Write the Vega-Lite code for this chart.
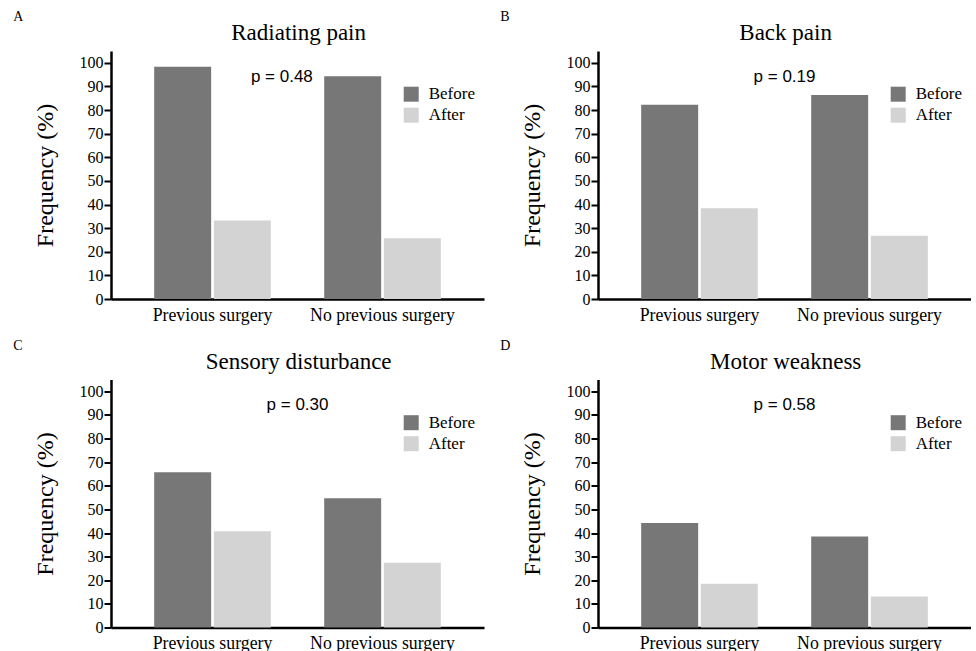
{
  "$schema": "https://vega.github.io/schema/vega-lite/v6.json",
  "padding": {"left": 13, "top": 10, "right": 0, "bottom": 0},
  "background": "white",
  "columns": 2,
  "spacing": {"row": 14.5, "column": 16},
  "resolve": {"legend": {"color": "independent"}, "scale": {"color": "independent"}},
  "datasets": {
    "bars": [
      {"panel": "A", "group": "Previous surgery", "period": "Before", "freq": 98.3},
      {"panel": "A", "group": "Previous surgery", "period": "After", "freq": 33.2},
      {"panel": "A", "group": "No previous surgery", "period": "Before", "freq": 94.3},
      {"panel": "A", "group": "No previous surgery", "period": "After", "freq": 25.7},
      {"panel": "B", "group": "Previous surgery", "period": "Before", "freq": 82.2},
      {"panel": "B", "group": "Previous surgery", "period": "After", "freq": 38.4},
      {"panel": "B", "group": "No previous surgery", "period": "Before", "freq": 86.4},
      {"panel": "B", "group": "No previous surgery", "period": "After", "freq": 26.8},
      {"panel": "C", "group": "Previous surgery", "period": "Before", "freq": 65.7},
      {"panel": "C", "group": "Previous surgery", "period": "After", "freq": 40.8},
      {"panel": "C", "group": "No previous surgery", "period": "Before", "freq": 54.7},
      {"panel": "C", "group": "No previous surgery", "period": "After", "freq": 27.4},
      {"panel": "D", "group": "Previous surgery", "period": "Before", "freq": 44.2},
      {"panel": "D", "group": "Previous surgery", "period": "After", "freq": 18.5},
      {"panel": "D", "group": "No previous surgery", "period": "Before", "freq": 38.5},
      {"panel": "D", "group": "No previous surgery", "period": "After", "freq": 13.1}
    ],
    "pvals": [
      {"panel": "A", "px": 0.458, "py": 92, "label": "p = 0.48"},
      {"panel": "B", "px": 0.5, "py": 92, "label": "p = 0.19"},
      {"panel": "C", "px": 0.5, "py": 92, "label": "p = 0.30"},
      {"panel": "D", "px": 0.5, "py": 92, "label": "p = 0.58"}
    ],
    "letters": [
      {"panel": "A", "px": -0.262, "py": 117.5, "label": "A"},
      {"panel": "B", "px": -0.262, "py": 117.5, "label": "B"},
      {"panel": "C", "px": -0.262, "py": 117.5, "label": "C"},
      {"panel": "D", "px": -0.262, "py": 117.5, "label": "D"}
    ],
    "titles": [
      {"panel": "A", "px": 0.503, "py": 109.6, "label": "Radiating pain"},
      {"panel": "B", "px": 0.503, "py": 109.6, "label": "Back pain"},
      {"panel": "C", "px": 0.503, "py": 109.6, "label": "Sensory disturbance"},
      {"panel": "D", "px": 0.503, "py": 109.6, "label": "Motor weakness"}
    ]
  },
  "config": {
    "view": {"stroke": null},
    "axis": {
      "domainColor": "black", "domainWidth": 2.5, "tickColor": "black", "tickWidth": 2,
      "labelFont": "Liberation Serif", "labelColor": "black",
      "titleFont": "Liberation Serif", "titleColor": "black", "titleFontWeight": "normal",
      "grid": false
    },
    "axisY": {"tickSize": 7, "labelPadding": 1, "labelFontSize": 16, "titleFontSize": 24, "titlePadding": 22},
    "axisX": {"ticks": false, "labelPadding": 7, "labelFontSize": 17.8, "labelAngle": 0},
    "legend": {
      "orient": "none", "legendX": 291.7, "legendY": 34.7, "padding": 0,
      "symbolType": "square", "symbolSize": 225, "symbolStrokeWidth": 0, "symbolOpacity": 1,
      "labelFont": "Liberation Serif", "labelFontSize": 17, "labelColor": "black",
      "labelOffset": 9, "rowPadding": 3
    }
  },
  "concat": [
    {
      "width": 373, "height": 248,
      "resolve": {"scale": {"x": "independent"}},
      "layer": [
        {
          "data": {"name": "bars"},
          "transform": [{"filter": "datum.panel === 'A'"}],
          "mark": {"type": "bar"},
          "encoding": {
            "x": {"field": "group", "type": "nominal", "sort": ["Previous surgery", "No previous surgery"], "scale": {"paddingInner": 0.314, "paddingOuter": 0.254}, "title": null},
            "xOffset": {"field": "period", "type": "nominal", "sort": ["Before", "After"], "scale": {"paddingInner": 0.045}},
            "y": {"field": "freq", "type": "quantitative", "scale": {"domain": [0, 105], "nice": false}, "axis": {"values": [0, 10, 20, 30, 40, 50, 60, 70, 80, 90, 100]}, "title": "Frequency (%)"},
            "color": {"field": "period", "type": "nominal", "sort": ["Before", "After"], "scale": {"domain": ["Before", "After"], "range": ["#777777", "#d3d3d3"]}, "legend": {"title": null}}
          }
        },
        {
          "data": {"name": "pvals"},
          "transform": [{"filter": "datum.panel === 'A'"}],
          "mark": {"type": "text", "font": "Liberation Sans", "fontSize": 17, "baseline": "alphabetic", "align": "center", "color": "black"},
          "encoding": {
            "x": {"field": "px", "type": "quantitative", "scale": {"domain": [0, 1]}, "axis": null},
            "y": {"field": "py", "type": "quantitative", "scale": {"domain": [0, 105], "nice": false}, "axis": {"values": [0, 10, 20, 30, 40, 50, 60, 70, 80, 90, 100]}, "title": "Frequency (%)"},
            "text": {"field": "label"}
          }
        },
        {
          "data": {"name": "letters"},
          "transform": [{"filter": "datum.panel === 'A'"}],
          "mark": {"type": "text", "font": "Liberation Serif", "fontSize": 14, "baseline": "alphabetic", "align": "left", "color": "black"},
          "encoding": {
            "x": {"field": "px", "type": "quantitative", "scale": {"domain": [0, 1]}, "axis": null},
            "y": {"field": "py", "type": "quantitative", "scale": {"domain": [0, 105], "nice": false}, "axis": {"values": [0, 10, 20, 30, 40, 50, 60, 70, 80, 90, 100]}, "title": "Frequency (%)"},
            "text": {"field": "label"}
          }
        },
        {
          "data": {"name": "titles"},
          "transform": [{"filter": "datum.panel === 'A'"}],
          "mark": {"type": "text", "font": "Liberation Serif", "fontSize": 23, "baseline": "alphabetic", "align": "center", "color": "black"},
          "encoding": {
            "x": {"field": "px", "type": "quantitative", "scale": {"domain": [0, 1]}, "axis": null},
            "y": {"field": "py", "type": "quantitative", "scale": {"domain": [0, 105], "nice": false}, "axis": {"values": [0, 10, 20, 30, 40, 50, 60, 70, 80, 90, 100]}, "title": "Frequency (%)"},
            "text": {"field": "label"}
          }
        }
      ]
    },
    {
      "width": 373, "height": 248,
      "resolve": {"scale": {"x": "independent"}},
      "layer": [
        {
          "data": {"name": "bars"},
          "transform": [{"filter": "datum.panel === 'B'"}],
          "mark": {"type": "bar"},
          "encoding": {
            "x": {"field": "group", "type": "nominal", "sort": ["Previous surgery", "No previous surgery"], "scale": {"paddingInner": 0.314, "paddingOuter": 0.254}, "title": null},
            "xOffset": {"field": "period", "type": "nominal", "sort": ["Before", "After"], "scale": {"paddingInner": 0.045}},
            "y": {"field": "freq", "type": "quantitative", "scale": {"domain": [0, 105], "nice": false}, "axis": {"values": [0, 10, 20, 30, 40, 50, 60, 70, 80, 90, 100]}, "title": "Frequency (%)"},
            "color": {"field": "period", "type": "nominal", "sort": ["Before", "After"], "scale": {"domain": ["Before", "After"], "range": ["#777777", "#d3d3d3"]}, "legend": {"title": null}}
          }
        },
        {
          "data": {"name": "pvals"},
          "transform": [{"filter": "datum.panel === 'B'"}],
          "mark": {"type": "text", "font": "Liberation Sans", "fontSize": 17, "baseline": "alphabetic", "align": "center", "color": "black"},
          "encoding": {
            "x": {"field": "px", "type": "quantitative", "scale": {"domain": [0, 1]}, "axis": null},
            "y": {"field": "py", "type": "quantitative", "scale": {"domain": [0, 105], "nice": false}, "axis": {"values": [0, 10, 20, 30, 40, 50, 60, 70, 80, 90, 100]}, "title": "Frequency (%)"},
            "text": {"field": "label"}
          }
        },
        {
          "data": {"name": "letters"},
          "transform": [{"filter": "datum.panel === 'B'"}],
          "mark": {"type": "text", "font": "Liberation Serif", "fontSize": 14, "baseline": "alphabetic", "align": "left", "color": "black"},
          "encoding": {
            "x": {"field": "px", "type": "quantitative", "scale": {"domain": [0, 1]}, "axis": null},
            "y": {"field": "py", "type": "quantitative", "scale": {"domain": [0, 105], "nice": false}, "axis": {"values": [0, 10, 20, 30, 40, 50, 60, 70, 80, 90, 100]}, "title": "Frequency (%)"},
            "text": {"field": "label"}
          }
        },
        {
          "data": {"name": "titles"},
          "transform": [{"filter": "datum.panel === 'B'"}],
          "mark": {"type": "text", "font": "Liberation Serif", "fontSize": 23, "baseline": "alphabetic", "align": "center", "color": "black"},
          "encoding": {
            "x": {"field": "px", "type": "quantitative", "scale": {"domain": [0, 1]}, "axis": null},
            "y": {"field": "py", "type": "quantitative", "scale": {"domain": [0, 105], "nice": false}, "axis": {"values": [0, 10, 20, 30, 40, 50, 60, 70, 80, 90, 100]}, "title": "Frequency (%)"},
            "text": {"field": "label"}
          }
        }
      ]
    },
    {
      "width": 373, "height": 248,
      "resolve": {"scale": {"x": "independent"}},
      "layer": [
        {
          "data": {"name": "bars"},
          "transform": [{"filter": "datum.panel === 'C'"}],
          "mark": {"type": "bar"},
          "encoding": {
            "x": {"field": "group", "type": "nominal", "sort": ["Previous surgery", "No previous surgery"], "scale": {"paddingInner": 0.314, "paddingOuter": 0.254}, "title": null},
            "xOffset": {"field": "period", "type": "nominal", "sort": ["Before", "After"], "scale": {"paddingInner": 0.045}},
            "y": {"field": "freq", "type": "quantitative", "scale": {"domain": [0, 105], "nice": false}, "axis": {"values": [0, 10, 20, 30, 40, 50, 60, 70, 80, 90, 100]}, "title": "Frequency (%)"},
            "color": {"field": "period", "type": "nominal", "sort": ["Before", "After"], "scale": {"domain": ["Before", "After"], "range": ["#777777", "#d3d3d3"]}, "legend": {"title": null}}
          }
        },
        {
          "data": {"name": "pvals"},
          "transform": [{"filter": "datum.panel === 'C'"}],
          "mark": {"type": "text", "font": "Liberation Sans", "fontSize": 17, "baseline": "alphabetic", "align": "center", "color": "black"},
          "encoding": {
            "x": {"field": "px", "type": "quantitative", "scale": {"domain": [0, 1]}, "axis": null},
            "y": {"field": "py", "type": "quantitative", "scale": {"domain": [0, 105], "nice": false}, "axis": {"values": [0, 10, 20, 30, 40, 50, 60, 70, 80, 90, 100]}, "title": "Frequency (%)"},
            "text": {"field": "label"}
          }
        },
        {
          "data": {"name": "letters"},
          "transform": [{"filter": "datum.panel === 'C'"}],
          "mark": {"type": "text", "font": "Liberation Serif", "fontSize": 14, "baseline": "alphabetic", "align": "left", "color": "black"},
          "encoding": {
            "x": {"field": "px", "type": "quantitative", "scale": {"domain": [0, 1]}, "axis": null},
            "y": {"field": "py", "type": "quantitative", "scale": {"domain": [0, 105], "nice": false}, "axis": {"values": [0, 10, 20, 30, 40, 50, 60, 70, 80, 90, 100]}, "title": "Frequency (%)"},
            "text": {"field": "label"}
          }
        },
        {
          "data": {"name": "titles"},
          "transform": [{"filter": "datum.panel === 'C'"}],
          "mark": {"type": "text", "font": "Liberation Serif", "fontSize": 23, "baseline": "alphabetic", "align": "center", "color": "black"},
          "encoding": {
            "x": {"field": "px", "type": "quantitative", "scale": {"domain": [0, 1]}, "axis": null},
            "y": {"field": "py", "type": "quantitative", "scale": {"domain": [0, 105], "nice": false}, "axis": {"values": [0, 10, 20, 30, 40, 50, 60, 70, 80, 90, 100]}, "title": "Frequency (%)"},
            "text": {"field": "label"}
          }
        }
      ]
    },
    {
      "width": 373, "height": 248,
      "resolve": {"scale": {"x": "independent"}},
      "layer": [
        {
          "data": {"name": "bars"},
          "transform": [{"filter": "datum.panel === 'D'"}],
          "mark": {"type": "bar"},
          "encoding": {
            "x": {"field": "group", "type": "nominal", "sort": ["Previous surgery", "No previous surgery"], "scale": {"paddingInner": 0.314, "paddingOuter": 0.254}, "title": null},
            "xOffset": {"field": "period", "type": "nominal", "sort": ["Before", "After"], "scale": {"paddingInner": 0.045}},
            "y": {"field": "freq", "type": "quantitative", "scale": {"domain": [0, 105], "nice": false}, "axis": {"values": [0, 10, 20, 30, 40, 50, 60, 70, 80, 90, 100]}, "title": "Frequency (%)"},
            "color": {"field": "period", "type": "nominal", "sort": ["Before", "After"], "scale": {"domain": ["Before", "After"], "range": ["#777777", "#d3d3d3"]}, "legend": {"title": null}}
          }
        },
        {
          "data": {"name": "pvals"},
          "transform": [{"filter": "datum.panel === 'D'"}],
          "mark": {"type": "text", "font": "Liberation Sans", "fontSize": 17, "baseline": "alphabetic", "align": "center", "color": "black"},
          "encoding": {
            "x": {"field": "px", "type": "quantitative", "scale": {"domain": [0, 1]}, "axis": null},
            "y": {"field": "py", "type": "quantitative", "scale": {"domain": [0, 105], "nice": false}, "axis": {"values": [0, 10, 20, 30, 40, 50, 60, 70, 80, 90, 100]}, "title": "Frequency (%)"},
            "text": {"field": "label"}
          }
        },
        {
          "data": {"name": "letters"},
          "transform": [{"filter": "datum.panel === 'D'"}],
          "mark": {"type": "text", "font": "Liberation Serif", "fontSize": 14, "baseline": "alphabetic", "align": "left", "color": "black"},
          "encoding": {
            "x": {"field": "px", "type": "quantitative", "scale": {"domain": [0, 1]}, "axis": null},
            "y": {"field": "py", "type": "quantitative", "scale": {"domain": [0, 105], "nice": false}, "axis": {"values": [0, 10, 20, 30, 40, 50, 60, 70, 80, 90, 100]}, "title": "Frequency (%)"},
            "text": {"field": "label"}
          }
        },
        {
          "data": {"name": "titles"},
          "transform": [{"filter": "datum.panel === 'D'"}],
          "mark": {"type": "text", "font": "Liberation Serif", "fontSize": 23, "baseline": "alphabetic", "align": "center", "color": "black"},
          "encoding": {
            "x": {"field": "px", "type": "quantitative", "scale": {"domain": [0, 1]}, "axis": null},
            "y": {"field": "py", "type": "quantitative", "scale": {"domain": [0, 105], "nice": false}, "axis": {"values": [0, 10, 20, 30, 40, 50, 60, 70, 80, 90, 100]}, "title": "Frequency (%)"},
            "text": {"field": "label"}
          }
        }
      ]
    }
  ]
}
